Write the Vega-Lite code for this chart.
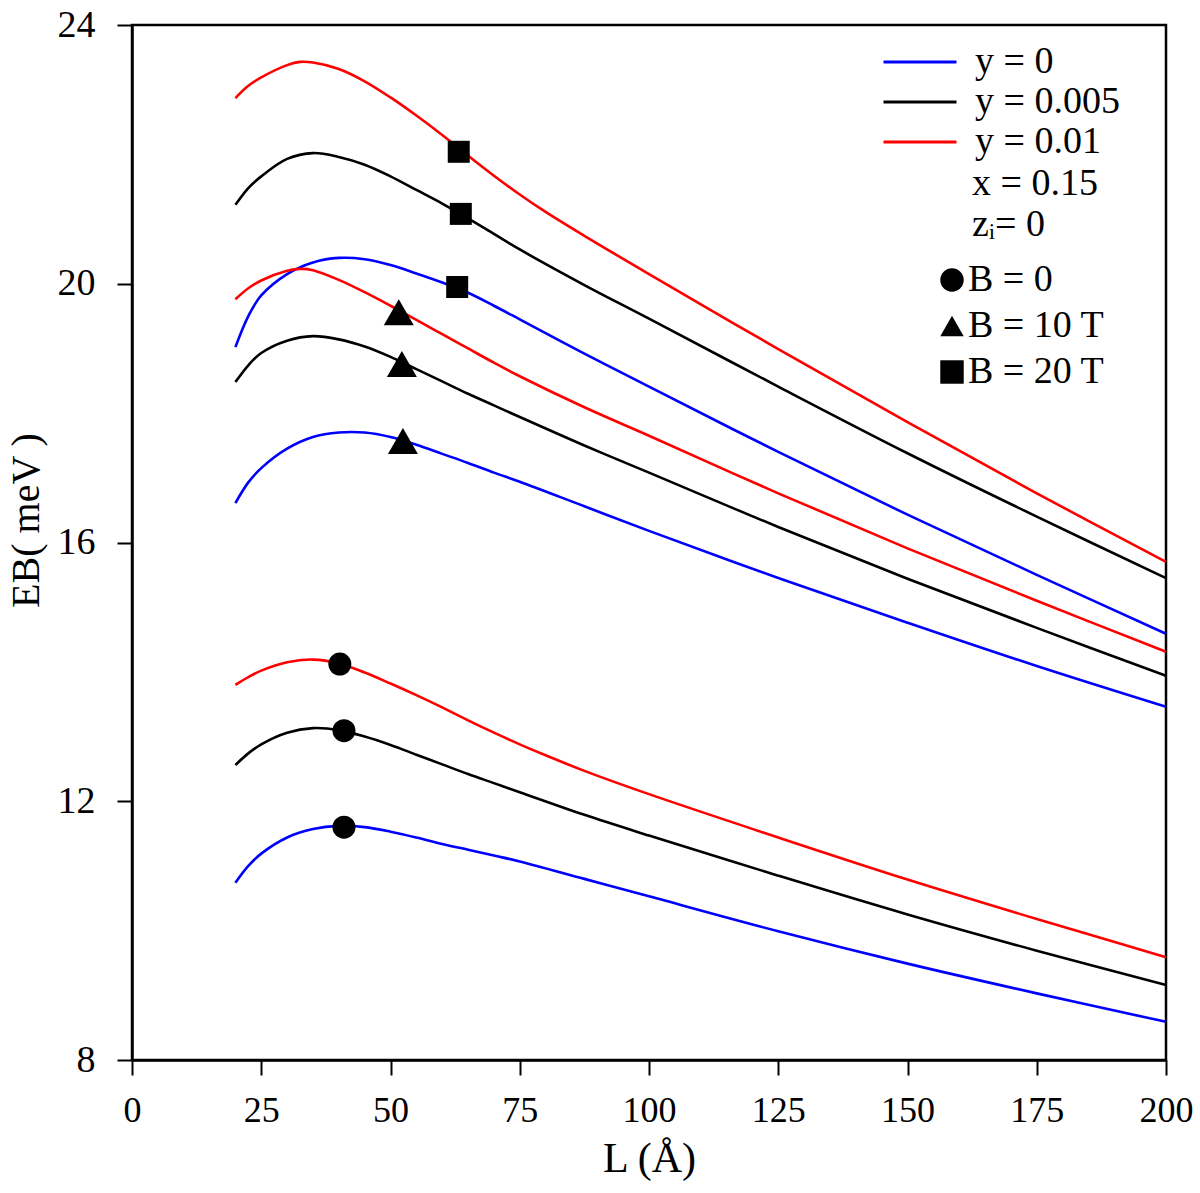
{
  "$schema": "https://vega.github.io/schema/vega-lite/v6.json",
  "width": 1034,
  "height": 1035,
  "autosize": "none",
  "padding": {"left": 132, "top": 25, "right": 34, "bottom": 133},
  "background": "white",
  "config": {
    "font": "Liberation Serif",
    "view": {"stroke": "black", "strokeWidth": 2.5},
    "axis": {
      "domainColor": "black", "domainWidth": 2.5, "tickColor": "black", "tickWidth": 2, "tickSize": 15,
      "grid": false, "labelFont": "Liberation Serif", "labelColor": "black",
      "titleFont": "Liberation Serif", "titleFontWeight": "normal", "titleColor": "black"
    },
    "legend": {
      "labelFont": "Liberation Serif", "labelFontSize": 38, "labelColor": "black",
      "titleFont": "Liberation Serif", "titleFontSize": 38, "titleFontWeight": "normal", "titleColor": "black"
    }
  },
  "datasets": {
    "curves": [
      {"series": "y = 0.01", "B": "B = 20 T", "L": 20, "E": 22.87},
      {"series": "y = 0.01", "B": "B = 20 T", "L": 22.5, "E": 23.06},
      {"series": "y = 0.01", "B": "B = 20 T", "L": 25, "E": 23.19},
      {"series": "y = 0.01", "B": "B = 20 T", "L": 30, "E": 23.38},
      {"series": "y = 0.01", "B": "B = 20 T", "L": 32.5, "E": 23.43},
      {"series": "y = 0.01", "B": "B = 20 T", "L": 35, "E": 23.42},
      {"series": "y = 0.01", "B": "B = 20 T", "L": 40, "E": 23.32},
      {"series": "y = 0.01", "B": "B = 20 T", "L": 45, "E": 23.13},
      {"series": "y = 0.01", "B": "B = 20 T", "L": 50, "E": 22.88},
      {"series": "y = 0.01", "B": "B = 20 T", "L": 55, "E": 22.60},
      {"series": "y = 0.01", "B": "B = 20 T", "L": 60, "E": 22.30},
      {"series": "y = 0.01", "B": "B = 20 T", "L": 65, "E": 21.98},
      {"series": "y = 0.01", "B": "B = 20 T", "L": 70, "E": 21.67},
      {"series": "y = 0.01", "B": "B = 20 T", "L": 75, "E": 21.38},
      {"series": "y = 0.01", "B": "B = 20 T", "L": 80, "E": 21.11},
      {"series": "y = 0.01", "B": "B = 20 T", "L": 87.5, "E": 20.74},
      {"series": "y = 0.01", "B": "B = 20 T", "L": 100, "E": 20.15},
      {"series": "y = 0.01", "B": "B = 20 T", "L": 125, "E": 18.99},
      {"series": "y = 0.01", "B": "B = 20 T", "L": 150, "E": 17.86},
      {"series": "y = 0.01", "B": "B = 20 T", "L": 175, "E": 16.76},
      {"series": "y = 0.01", "B": "B = 20 T", "L": 200, "E": 15.70},

      {"series": "y = 0.005", "B": "B = 20 T", "L": 20, "E": 21.22},
      {"series": "y = 0.005", "B": "B = 20 T", "L": 22.5, "E": 21.48},
      {"series": "y = 0.005", "B": "B = 20 T", "L": 25, "E": 21.66},
      {"series": "y = 0.005", "B": "B = 20 T", "L": 30, "E": 21.93},
      {"series": "y = 0.005", "B": "B = 20 T", "L": 35, "E": 22.02},
      {"series": "y = 0.005", "B": "B = 20 T", "L": 40, "E": 21.96},
      {"series": "y = 0.005", "B": "B = 20 T", "L": 45, "E": 21.84},
      {"series": "y = 0.005", "B": "B = 20 T", "L": 50, "E": 21.66},
      {"series": "y = 0.005", "B": "B = 20 T", "L": 55, "E": 21.45},
      {"series": "y = 0.005", "B": "B = 20 T", "L": 60, "E": 21.24},
      {"series": "y = 0.005", "B": "B = 20 T", "L": 65, "E": 21.01},
      {"series": "y = 0.005", "B": "B = 20 T", "L": 70, "E": 20.77},
      {"series": "y = 0.005", "B": "B = 20 T", "L": 75, "E": 20.53},
      {"series": "y = 0.005", "B": "B = 20 T", "L": 87.5, "E": 19.98},
      {"series": "y = 0.005", "B": "B = 20 T", "L": 100, "E": 19.46},
      {"series": "y = 0.005", "B": "B = 20 T", "L": 125, "E": 18.41},
      {"series": "y = 0.005", "B": "B = 20 T", "L": 150, "E": 17.38},
      {"series": "y = 0.005", "B": "B = 20 T", "L": 175, "E": 16.40},
      {"series": "y = 0.005", "B": "B = 20 T", "L": 200, "E": 15.45},

      {"series": "y = 0", "B": "B = 20 T", "L": 20, "E": 19.02},
      {"series": "y = 0", "B": "B = 20 T", "L": 22.5, "E": 19.50},
      {"series": "y = 0", "B": "B = 20 T", "L": 25, "E": 19.82},
      {"series": "y = 0", "B": "B = 20 T", "L": 30, "E": 20.15},
      {"series": "y = 0", "B": "B = 20 T", "L": 35, "E": 20.33},
      {"series": "y = 0", "B": "B = 20 T", "L": 40, "E": 20.40},
      {"series": "y = 0", "B": "B = 20 T", "L": 45, "E": 20.38},
      {"series": "y = 0", "B": "B = 20 T", "L": 50, "E": 20.29},
      {"series": "y = 0", "B": "B = 20 T", "L": 55, "E": 20.16},
      {"series": "y = 0", "B": "B = 20 T", "L": 60, "E": 20.02},
      {"series": "y = 0", "B": "B = 20 T", "L": 65, "E": 19.86},
      {"series": "y = 0", "B": "B = 20 T", "L": 70, "E": 19.66},
      {"series": "y = 0", "B": "B = 20 T", "L": 75, "E": 19.45},
      {"series": "y = 0", "B": "B = 20 T", "L": 87.5, "E": 18.92},
      {"series": "y = 0", "B": "B = 20 T", "L": 100, "E": 18.41},
      {"series": "y = 0", "B": "B = 20 T", "L": 125, "E": 17.40},
      {"series": "y = 0", "B": "B = 20 T", "L": 150, "E": 16.43},
      {"series": "y = 0", "B": "B = 20 T", "L": 175, "E": 15.50},
      {"series": "y = 0", "B": "B = 20 T", "L": 200, "E": 14.59},

      {"series": "y = 0.01", "B": "B = 10 T", "L": 20, "E": 19.76},
      {"series": "y = 0.01", "B": "B = 10 T", "L": 22.5, "E": 19.93},
      {"series": "y = 0.01", "B": "B = 10 T", "L": 25, "E": 20.05},
      {"series": "y = 0.01", "B": "B = 10 T", "L": 30, "E": 20.20},
      {"series": "y = 0.01", "B": "B = 10 T", "L": 32.5, "E": 20.23},
      {"series": "y = 0.01", "B": "B = 10 T", "L": 35, "E": 20.21},
      {"series": "y = 0.01", "B": "B = 10 T", "L": 40, "E": 20.06},
      {"series": "y = 0.01", "B": "B = 10 T", "L": 45, "E": 19.87},
      {"series": "y = 0.01", "B": "B = 10 T", "L": 50, "E": 19.66},
      {"series": "y = 0.01", "B": "B = 10 T", "L": 55, "E": 19.44},
      {"series": "y = 0.01", "B": "B = 10 T", "L": 60, "E": 19.22},
      {"series": "y = 0.01", "B": "B = 10 T", "L": 65, "E": 19.00},
      {"series": "y = 0.01", "B": "B = 10 T", "L": 70, "E": 18.78},
      {"series": "y = 0.01", "B": "B = 10 T", "L": 75, "E": 18.57},
      {"series": "y = 0.01", "B": "B = 10 T", "L": 87.5, "E": 18.09},
      {"series": "y = 0.01", "B": "B = 10 T", "L": 100, "E": 17.65},
      {"series": "y = 0.01", "B": "B = 10 T", "L": 125, "E": 16.76},
      {"series": "y = 0.01", "B": "B = 10 T", "L": 150, "E": 15.91},
      {"series": "y = 0.01", "B": "B = 10 T", "L": 175, "E": 15.10},
      {"series": "y = 0.01", "B": "B = 10 T", "L": 200, "E": 14.31},

      {"series": "y = 0.005", "B": "B = 10 T", "L": 20, "E": 18.48},
      {"series": "y = 0.005", "B": "B = 10 T", "L": 22.5, "E": 18.74},
      {"series": "y = 0.005", "B": "B = 10 T", "L": 25, "E": 18.93},
      {"series": "y = 0.005", "B": "B = 10 T", "L": 30, "E": 19.12},
      {"series": "y = 0.005", "B": "B = 10 T", "L": 35, "E": 19.19},
      {"series": "y = 0.005", "B": "B = 10 T", "L": 40, "E": 19.14},
      {"series": "y = 0.005", "B": "B = 10 T", "L": 45, "E": 19.03},
      {"series": "y = 0.005", "B": "B = 10 T", "L": 50, "E": 18.87},
      {"series": "y = 0.005", "B": "B = 10 T", "L": 55, "E": 18.68},
      {"series": "y = 0.005", "B": "B = 10 T", "L": 60, "E": 18.49},
      {"series": "y = 0.005", "B": "B = 10 T", "L": 65, "E": 18.30},
      {"series": "y = 0.005", "B": "B = 10 T", "L": 70, "E": 18.12},
      {"series": "y = 0.005", "B": "B = 10 T", "L": 75, "E": 17.94},
      {"series": "y = 0.005", "B": "B = 10 T", "L": 87.5, "E": 17.50},
      {"series": "y = 0.005", "B": "B = 10 T", "L": 100, "E": 17.08},
      {"series": "y = 0.005", "B": "B = 10 T", "L": 125, "E": 16.24},
      {"series": "y = 0.005", "B": "B = 10 T", "L": 150, "E": 15.44},
      {"series": "y = 0.005", "B": "B = 10 T", "L": 175, "E": 14.68},
      {"series": "y = 0.005", "B": "B = 10 T", "L": 200, "E": 13.94},

      {"series": "y = 0", "B": "B = 10 T", "L": 20, "E": 16.61},
      {"series": "y = 0", "B": "B = 10 T", "L": 22.5, "E": 16.93},
      {"series": "y = 0", "B": "B = 10 T", "L": 25, "E": 17.15},
      {"series": "y = 0", "B": "B = 10 T", "L": 30, "E": 17.45},
      {"series": "y = 0", "B": "B = 10 T", "L": 35, "E": 17.63},
      {"series": "y = 0", "B": "B = 10 T", "L": 40, "E": 17.70},
      {"series": "y = 0", "B": "B = 10 T", "L": 45, "E": 17.70},
      {"series": "y = 0", "B": "B = 10 T", "L": 50, "E": 17.63},
      {"series": "y = 0", "B": "B = 10 T", "L": 55, "E": 17.51},
      {"series": "y = 0", "B": "B = 10 T", "L": 60, "E": 17.37},
      {"series": "y = 0", "B": "B = 10 T", "L": 65, "E": 17.23},
      {"series": "y = 0", "B": "B = 10 T", "L": 70, "E": 17.08},
      {"series": "y = 0", "B": "B = 10 T", "L": 75, "E": 16.94},
      {"series": "y = 0", "B": "B = 10 T", "L": 87.5, "E": 16.56},
      {"series": "y = 0", "B": "B = 10 T", "L": 100, "E": 16.18},
      {"series": "y = 0", "B": "B = 10 T", "L": 125, "E": 15.45},
      {"series": "y = 0", "B": "B = 10 T", "L": 150, "E": 14.76},
      {"series": "y = 0", "B": "B = 10 T", "L": 175, "E": 14.09},
      {"series": "y = 0", "B": "B = 10 T", "L": 200, "E": 13.46},

      {"series": "y = 0.01", "B": "B = 0", "L": 20, "E": 13.80},
      {"series": "y = 0.01", "B": "B = 0", "L": 22.5, "E": 13.92},
      {"series": "y = 0.01", "B": "B = 0", "L": 25, "E": 14.02},
      {"series": "y = 0.01", "B": "B = 0", "L": 30, "E": 14.15},
      {"series": "y = 0.01", "B": "B = 0", "L": 35, "E": 14.19},
      {"series": "y = 0.01", "B": "B = 0", "L": 40, "E": 14.13},
      {"series": "y = 0.01", "B": "B = 0", "L": 45, "E": 13.99},
      {"series": "y = 0.01", "B": "B = 0", "L": 50, "E": 13.82},
      {"series": "y = 0.01", "B": "B = 0", "L": 55, "E": 13.64},
      {"series": "y = 0.01", "B": "B = 0", "L": 60, "E": 13.45},
      {"series": "y = 0.01", "B": "B = 0", "L": 65, "E": 13.25},
      {"series": "y = 0.01", "B": "B = 0", "L": 70, "E": 13.06},
      {"series": "y = 0.01", "B": "B = 0", "L": 75, "E": 12.88},
      {"series": "y = 0.01", "B": "B = 0", "L": 80, "E": 12.71},
      {"series": "y = 0.01", "B": "B = 0", "L": 87.5, "E": 12.47},
      {"series": "y = 0.01", "B": "B = 0", "L": 100, "E": 12.11},
      {"series": "y = 0.01", "B": "B = 0", "L": 125, "E": 11.44},
      {"series": "y = 0.01", "B": "B = 0", "L": 150, "E": 10.79},
      {"series": "y = 0.01", "B": "B = 0", "L": 175, "E": 10.18},
      {"series": "y = 0.01", "B": "B = 0", "L": 200, "E": 9.59},

      {"series": "y = 0.005", "B": "B = 0", "L": 20, "E": 12.56},
      {"series": "y = 0.005", "B": "B = 0", "L": 22.5, "E": 12.74},
      {"series": "y = 0.005", "B": "B = 0", "L": 25, "E": 12.88},
      {"series": "y = 0.005", "B": "B = 0", "L": 30, "E": 13.06},
      {"series": "y = 0.005", "B": "B = 0", "L": 35, "E": 13.13},
      {"series": "y = 0.005", "B": "B = 0", "L": 40, "E": 13.10},
      {"series": "y = 0.005", "B": "B = 0", "L": 45, "E": 13.00},
      {"series": "y = 0.005", "B": "B = 0", "L": 50, "E": 12.87},
      {"series": "y = 0.005", "B": "B = 0", "L": 55, "E": 12.72},
      {"series": "y = 0.005", "B": "B = 0", "L": 60, "E": 12.57},
      {"series": "y = 0.005", "B": "B = 0", "L": 65, "E": 12.42},
      {"series": "y = 0.005", "B": "B = 0", "L": 70, "E": 12.28},
      {"series": "y = 0.005", "B": "B = 0", "L": 75, "E": 12.14},
      {"series": "y = 0.005", "B": "B = 0", "L": 87.5, "E": 11.79},
      {"series": "y = 0.005", "B": "B = 0", "L": 100, "E": 11.47},
      {"series": "y = 0.005", "B": "B = 0", "L": 125, "E": 10.85},
      {"series": "y = 0.005", "B": "B = 0", "L": 150, "E": 10.25},
      {"series": "y = 0.005", "B": "B = 0", "L": 175, "E": 9.69},
      {"series": "y = 0.005", "B": "B = 0", "L": 200, "E": 9.16},

      {"series": "y = 0", "B": "B = 0", "L": 20, "E": 10.74},
      {"series": "y = 0", "B": "B = 0", "L": 22.5, "E": 11.00},
      {"series": "y = 0", "B": "B = 0", "L": 25, "E": 11.19},
      {"series": "y = 0", "B": "B = 0", "L": 30, "E": 11.44},
      {"series": "y = 0", "B": "B = 0", "L": 35, "E": 11.57},
      {"series": "y = 0", "B": "B = 0", "L": 40, "E": 11.62},
      {"series": "y = 0", "B": "B = 0", "L": 45, "E": 11.60},
      {"series": "y = 0", "B": "B = 0", "L": 50, "E": 11.53},
      {"series": "y = 0", "B": "B = 0", "L": 55, "E": 11.44},
      {"series": "y = 0", "B": "B = 0", "L": 60, "E": 11.34},
      {"series": "y = 0", "B": "B = 0", "L": 65, "E": 11.25},
      {"series": "y = 0", "B": "B = 0", "L": 70, "E": 11.16},
      {"series": "y = 0", "B": "B = 0", "L": 75, "E": 11.07},
      {"series": "y = 0", "B": "B = 0", "L": 87.5, "E": 10.80},
      {"series": "y = 0", "B": "B = 0", "L": 100, "E": 10.53},
      {"series": "y = 0", "B": "B = 0", "L": 125, "E": 9.99},
      {"series": "y = 0", "B": "B = 0", "L": 150, "E": 9.49},
      {"series": "y = 0", "B": "B = 0", "L": 175, "E": 9.03},
      {"series": "y = 0", "B": "B = 0", "L": 200, "E": 8.59}
    ],
    "markers": [
      {"B": "B = 0", "L": 40.2, "E": 14.12},
      {"B": "B = 0", "L": 41, "E": 13.09},
      {"B": "B = 0", "L": 41, "E": 11.6},
      {"B": "B = 10 T", "L": 51.6, "E": 19.56},
      {"B": "B = 10 T", "L": 52.2, "E": 18.76},
      {"B": "B = 10 T", "L": 52.4, "E": 17.57},
      {"B": "B = 20 T", "L": 63.2, "E": 22.04},
      {"B": "B = 20 T", "L": 63.6, "E": 21.08},
      {"B": "B = 20 T", "L": 62.9, "E": 19.95}
    ]
  },
  "layer": [
    {
      "data": {"name": "curves"},
      "mark": {"type": "line", "strokeWidth": 2.6, "interpolate": "catmull-rom"},
      "encoding": {
        "x": {
          "field": "L", "type": "quantitative",
          "scale": {"domain": [0, 200], "nice": false, "zero": false},
          "axis": {"title": "L (Å)", "values": [0, 25, 50, 75, 100, 125, 150, 175, 200], "format": "d",
                   "labelFontSize": 36, "titleFontSize": 42, "labelPadding": 18, "titlePadding": 10, "labelFlush": false}
        },
        "y": {
          "field": "E", "type": "quantitative",
          "scale": {"domain": [8, 24], "nice": false, "zero": false},
          "axis": {"title": "EB( meV )", "values": [8, 12, 16, 20, 24], "format": "d",
                   "labelFontSize": 38, "titleFontSize": 40, "labelPadding": 22,
                   "titleX": -86, "titleY": 495, "titleAngle": 270, "titleBaseline": "bottom", "titleAlign": "center", "labelFlush": false}
        },
        "color": {
          "field": "series", "type": "nominal",
          "scale": {"domain": ["y = 0", "y = 0.005", "y = 0.01"], "range": ["#0000ff", "#000000", "#ff0000"]},
          "legend": {
            "orient": "none", "legendX": 750, "legendY": 17, "title": null,
            "symbolType": "stroke", "symbolSize": 5329, "symbolStrokeWidth": 3,
            "clipHeight": 40, "labelOffset": 17, "rowPadding": 0
          }
        },
        "detail": {"field": "B", "type": "nominal"}
      }
    },
    {
      "data": {"name": "markers"},
      "transform": [{"filter": "datum.B === 'B = 0'"}],
      "mark": {"type": "point", "filled": true, "color": "black", "opacity": 1, "size": 529},
      "encoding": {
        "x": {"field": "L", "type": "quantitative"},
        "y": {"field": "E", "type": "quantitative"},
        "shape": {
          "field": "B", "type": "nominal",
          "scale": {"domain": ["B = 0", "B = 10 T", "B = 20 T"], "range": ["circle", "triangle-up", "square"]},
          "legend": {
            "orient": "none", "legendX": 840, "legendY": 140,
            "title": ["x = 0.15", "zᵢ= 0"], "titleLineHeight": 41, "titlePadding": 17,
            "symbolSize": 550, "symbolFillColor": "black", "symbolStrokeColor": "black", "symbolOpacity": 1,
            "symbolOffset": -39, "labelOffset": -3, "rowPadding": 8
          }
        }
      }
    },
    {
      "data": {"name": "markers"},
      "transform": [{"filter": "datum.B === 'B = 10 T'"}],
      "mark": {"type": "point", "filled": true, "color": "black", "opacity": 1, "size": 900},
      "encoding": {
        "x": {"field": "L", "type": "quantitative"},
        "y": {"field": "E", "type": "quantitative"},
        "shape": {"field": "B", "type": "nominal", "scale": {"domain": ["B = 0", "B = 10 T", "B = 20 T"], "range": ["circle", "triangle-up", "square"]}}
      }
    },
    {
      "data": {"name": "markers"},
      "transform": [{"filter": "datum.B === 'B = 20 T'"}],
      "mark": {"type": "point", "filled": true, "color": "black", "opacity": 1, "size": 484},
      "encoding": {
        "x": {"field": "L", "type": "quantitative"},
        "y": {"field": "E", "type": "quantitative"},
        "shape": {"field": "B", "type": "nominal", "scale": {"domain": ["B = 0", "B = 10 T", "B = 20 T"], "range": ["circle", "triangle-up", "square"]}}
      }
    }
  ]
}
